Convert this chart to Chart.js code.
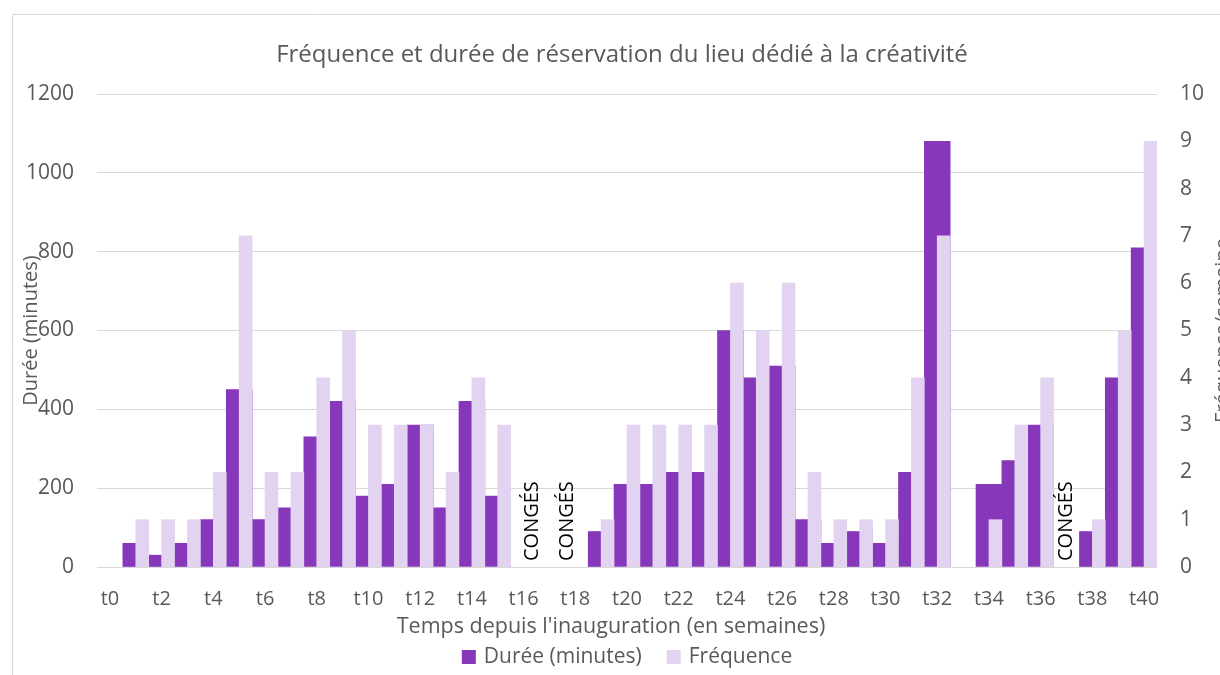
<!DOCTYPE html>
<html lang="fr">
<head>
<meta charset="utf-8">
<title>Fréquence et durée de réservation</title>
<script src="https://cdn.jsdelivr.net/npm/chart.js@4.4.1/dist/chart.umd.min.js"></script>
<style>
  html, body { margin: 0; padding: 0; background: #fff; }
  #wrap { position: relative; width: 1220px; height: 675px; }
</style>
</head>
<body>
<div id="wrap"><canvas id="bookingChart" width="1220" height="675"></canvas></div>
<script>
// weeks since opening, one label per week
const weeks = ['t0', 't1', 't2', 't3', 't4', 't5', 't6', 't7', 't8', 't9',
    't10', 't11', 't12', 't13', 't14', 't15', 't16', 't17', 't18', 't19',
    't20', 't21', 't22', 't23', 't24', 't25', 't26', 't27', 't28', 't29',
    't30', 't31', 't32', 't33', 't34', 't35', 't36', 't37', 't38', 't39', 't40'];

// total booked time per week (minutes)
const duree = [null, 60, 30, 60, 120, 450, 120, 150, 330, 420,
    180, 210, 360, 150, 420, 180, null, null, null, 90,
    210, 210, 240, 240, 600, 480, 510, 120, 60, 90,
    60, 240, 1080, null, 210, 270, 360, null, 90, 480, 810];

// number of bookings per week
const frequence = [null, 1, 1, 1, 2, 7, 2, 2, 4, 5,
    3, 3, 3, 2, 4, 3, null, null, null, 1,
    3, 3, 3, 3, 6, 5, 6, 2, 1, 1,
    1, 4, 7, null, 1, 3, 4, null, 1, 5, 9];

// holiday weeks, placed as category positions on the week axis
const conges = [16.35, 17.7, 37];

const dureeTicks = [0, 200, 400, 600, 800, 1000, 1200];
const freqTicks = [0, 1, 2, 3, 4, 5, 6, 7, 8, 9, 10];

const DARK = '#8637ba';
const LIGHT = '#e2d3f1';
const GREY = '#595959';
const FONT = '"Open Sans"';

// frequency bars sit on the right half of each week: a hidden axis with two slots per week
const halfSlots = [];
const freqHalf = [];
weeks.forEach((w, i) => {
    halfSlots.push(w + 'a', w + 'b');
    freqHalf.push(null, frequence[i]);
});

// titles, legend, holiday labels and frame
const decorations = {
    id: 'decorations',
    beforeDraw(chart) {
        const ctx = chart.ctx;
        ctx.save();
        ctx.strokeStyle = '#d9d9d9';
        ctx.lineWidth = 1;
        ctx.beginPath();
        ctx.moveTo(12.5, 675);
        ctx.lineTo(12.5, 14.5);
        ctx.lineTo(1220, 14.5);
        ctx.stroke();
        ctx.restore();
    },
    afterDraw(chart) {
        const ctx = chart.ctx;
        const area = chart.chartArea;
        const midY = (area.top + area.bottom) / 2;
        ctx.save();
        ctx.fillStyle = GREY;
        ctx.textBaseline = 'middle';
        ctx.textAlign = 'center';

        ctx.font = '24px ' + FONT;
        ctx.fillText('Fréquence et durée de réservation du lieu dédié à la créativité', 622, 55);

        ctx.font = '21.5px ' + FONT;
        ctx.fillText("Temps depuis l'inauguration (en semaines)", 611, 627);

        ctx.font = '20px ' + FONT;
        ctx.save();
        ctx.translate(31, midY);
        ctx.rotate(-Math.PI / 2);
        ctx.fillText('Durée (minutes)', 0, 0);
        ctx.restore();

        ctx.save();
        ctx.translate(1223, midY);
        ctx.rotate(-Math.PI / 2);
        ctx.fillText('Fréquence/semaine', 0, 0);
        ctx.restore();

        // legend
        ctx.font = '21px ' + FONT;
        ctx.textAlign = 'left';
        const items = [['Durée (minutes)', DARK], ['Fréquence', LIGHT]];
        const box = 14, gap = 8, spacing = 25;
        let total = 0;
        items.forEach(([t]) => { total += box + gap + ctx.measureText(t).width; });
        total += spacing;
        let x = (area.left + area.right) / 2 - total / 2;
        const ly = 657;
        items.forEach(([t, c]) => {
            ctx.fillStyle = c;
            ctx.fillRect(x, ly - box / 2, box, box);
            ctx.fillStyle = GREY;
            ctx.fillText(t, x + box + gap, ly);
            x += box + gap + ctx.measureText(t).width + spacing;
        });

        // holiday labels
        const xs = chart.scales.x;
        ctx.fillStyle = '#000';
        ctx.font = '20px ' + FONT;
        conges.forEach(v => {
            ctx.save();
            ctx.translate(xs.getPixelForValue(v), area.bottom - 6);
            ctx.rotate(-Math.PI / 2);
            ctx.textAlign = 'left';
            ctx.fillText('CONGÉS', 0, 0);
            ctx.restore();
        });
        ctx.restore();
    }
};

new Chart(document.getElementById('bookingChart'), {
    type: 'bar',
    data: {
        labels: weeks,
        datasets: [{
            label: 'Durée (minutes)',
            data: duree,
            backgroundColor: DARK,
            xAxisID: 'x',
            yAxisID: 'y',
            grouped: false,
            barPercentage: 1,
            categoryPercentage: 1,
            order: 1
        }, {
            label: 'Fréquence',
            data: freqHalf,
            backgroundColor: LIGHT,
            xAxisID: 'x2',
            yAxisID: 'y1',
            grouped: false,
            barPercentage: 1,
            categoryPercentage: 1,
            order: 0
        }]
    },
    options: {
        responsive: false,
        animation: false,
        layout: { padding: { top: 94, left: 0, right: 0, bottom: 0 } },
        plugins: {
            legend: { display: false },
            title: { display: false },
            tooltip: { enabled: false }
        },
        scales: {
            x: {
                type: 'category',
                offset: true,
                grid: { display: false },
                border: { display: false },
                ticks: {
                    autoSkip: false,
                    maxRotation: 0,
                    padding: 12,
                    color: GREY,
                    font: { family: FONT, size: 20 },
                    callback: (v, i) => (i % 2 === 0 ? weeks[i] : '')
                },
                afterFit: s => { s.height = 108; }
            },
            x2: {
                type: 'category',
                labels: halfSlots,
                offset: true,
                display: false,
                grid: { display: false }
            },
            y: {
                position: 'left',
                min: 0,
                max: 1200,
                afterBuildTicks: s => { s.ticks = dureeTicks.map(v => ({ value: v })); },
                grid: { color: '#d9d9d9', lineWidth: 1, drawTicks: false },
                border: { display: false },
                ticks: {
                    padding: 23,
                    color: GREY,
                    font: { family: FONT, size: 21 },
                    callback: v => String(v)
                },
                afterFit: s => { s.width = 97; }
            },
            y1: {
                position: 'right',
                min: 0,
                max: 10,
                afterBuildTicks: s => { s.ticks = freqTicks.map(v => ({ value: v })); },
                grid: { display: false, drawTicks: false },
                border: { display: false },
                ticks: {
                    padding: 23,
                    color: GREY,
                    font: { family: FONT, size: 21 },
                    callback: v => String(v)
                },
                afterFit: s => { s.width = 63; }
            }
        }
    },
    plugins: [decorations]
});
</script>
</body>
</html>
